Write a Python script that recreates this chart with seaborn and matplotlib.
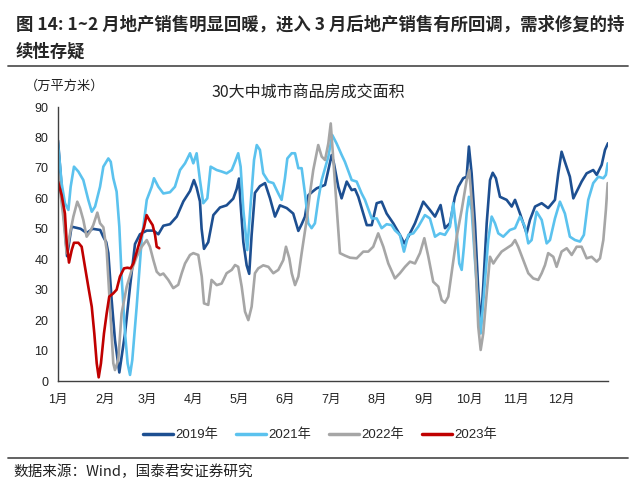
import matplotlib
matplotlib.use("Agg")
import matplotlib.pyplot as plt
from matplotlib.lines import Line2D
import pandas as pd
import seaborn as sns

# day-of-year positions and values (万平方米)
days_2019 = [0, 6, 9, 15, 19, 23, 28, 30, 32, 33.4,
             35.6, 37.8, 40.7, 44.5, 47.8, 51.1, 54.4, 58.9, 63.3, 66.6,
             69.9, 74.3, 78.8, 83.2, 87.6, 90.2, 92, 94.2, 95.3, 96.9,
             99.7, 103.1, 107.5, 111.9, 116.3, 118.6, 120.1, 121.2, 123, 125.2,
             126.9, 128.5, 130.7, 134, 137.4, 140.7, 144, 147.3, 151.8, 156.1,
             159.5, 161.7, 163.9, 166.1, 169.4, 171.7, 177.2, 179.4, 181.6, 183.1,
             186, 188.2, 191.6, 194.9, 197.1, 199.3, 202.6, 204.9, 208.2, 211.5,
             214.8, 218.1, 222.5, 226.9, 229.8, 232.5, 236.9, 242.4, 246.8, 250.2,
             253.9, 256.8, 260.1, 263.4, 265.6, 268.9, 271.2, 272.7, 274.5, 276.7,
             278.9, 280.5, 282.2, 284.5, 286.7, 288.5, 290.6, 293.3, 297.7, 301.1,
             303.3, 306.6, 311, 313.2, 316.6, 321, 325.3, 329.8, 332, 334.2,
             336.4, 339.7, 342, 344.2, 347.5, 350.8, 355.2, 357.5, 360.8, 363,
             365]
vals_2019 = [79, 41, 50.7, 50, 48.6, 50, 49.6, 47.4, 45.6, 42,
             26.6, 13.5, 2.8, 15.7, 31, 45, 48.2, 49.4, 49.4, 48.2,
             51, 51.5, 54, 59, 62.4, 66, 63.5, 59, 50, 43.4,
             45.6, 54.5, 57, 57.7, 59.9, 63.1, 66.5, 58, 45.6, 38,
             35.2, 48, 61.8, 64, 65, 60, 54, 57.7, 56.8, 55,
             49.3, 51.5, 54, 61, 62.4, 63.3, 64.4, 69.3, 74.2, 71.5,
             63.8, 60, 65.5, 62.7, 63, 60.5, 55, 51.2, 51.2, 58.4,
             58.9, 55, 51.8, 48, 45.2, 47.4, 51.8, 58.9, 56.2, 54,
             57.8, 50.2, 51.8, 60.5, 63.8, 66.6, 67.1, 77, 68.2, 51.8,
             29.9, 17.8, 31, 51.8, 66, 68.4, 66.6, 60.5, 59.5, 57.3,
             59.5, 55, 48.5, 52.9, 57.3, 58.4, 56.8, 59.5, 68.2, 75.3,
             72, 67.1, 60, 62.2, 65.5, 68.2, 69.3, 67.7, 71, 75.9,
             78.1]

days_2021 = [0, 2.4, 4.6, 6.9, 8.4, 10.6, 13.5, 16.8, 20.1, 22.4,
             24.6, 27.9, 30.1, 33.4, 35, 36.7, 38.9, 40.7, 42.2, 44.5,
             46.2, 47.8, 49.3, 52.2, 55.5, 58.9, 62.2, 63.7, 66.6, 69.9,
             74.3, 77.6, 81, 84.3, 87.6, 89.8, 92, 94.2, 96.4, 99.1,
             101.3, 105.3, 108.6, 111.9, 115.3, 117.5, 119.6, 121.2, 123, 125.6,
             127.9, 130.1, 131.9, 134, 136.2, 139.6, 142.9, 146.2, 148.4, 150.6,
             152.2, 155.1, 157.3, 159.5, 161.7, 163.9, 166.1, 168.3, 170.5, 172.7,
             175, 179.4, 182, 184.9, 188.3, 190.4, 194.9, 198.2, 201.5, 203.7,
             208.2, 211.5, 214.8, 218.1, 221.4, 223.6, 226.9, 229.6, 232.5, 235.8,
             239.1, 243.5, 246.8, 250.2, 253.5, 256.8, 260.1, 262.3, 264.6, 266.3,
             267.9, 269.4, 271.2, 272.7, 274.5, 276.7, 278.9, 280.5, 282.7, 285.5,
             287.8, 290, 292.2, 295.5, 299.9, 303.3, 306.6, 309.9, 312.1, 314.3,
             317.6, 321, 324.3, 326.5, 329.8, 333.1, 336.4, 339.7, 343.1, 346.4,
             349, 351.9, 355.2, 358.6, 361.9, 363.6, 364.8]
vals_2021 = [78, 65, 58.4, 56.2, 63.8, 70.4, 68.8, 66, 59.5, 55.6,
             57.3, 63.8, 70.4, 73.1, 72, 66.6, 62.2, 50.7, 34.3, 15.6,
             5.8, 2, 6.9, 24.4, 46.3, 59.5, 63.8, 66.6, 63.8, 61.6,
             62, 63.8, 69.3, 71.5, 74.8, 71.5, 74.8, 66, 58.4, 60,
             70.4, 69.3, 68.8, 68.2, 69.3, 72, 74.8, 70.4, 56.2, 43,
             58.4, 72.6, 77.5, 75.9, 68.2, 65.5, 65, 61.6, 59.5, 66.6,
             73.1, 74.8, 74.8, 69.9, 69.9, 61.6, 51.8, 50.2, 51.8, 59.5,
             66, 73.7, 80.8, 78, 74.2, 72, 66, 65.5, 61.6, 59.5,
             53.4, 53.4, 50.2, 51.5, 51.2, 49.5, 48, 42.5, 48, 48.5,
             50.7, 54.5, 53.4, 47.4, 48.5, 48, 50.7, 58.4, 48.5, 38.6,
             36.5, 44.1, 55, 60.5, 56.2, 39.7, 24.4, 15.6, 28.8, 46.3,
             54, 51.8, 48.5, 47.4, 49.6, 50.2, 54, 50.7, 45.2, 46.3,
             55.6, 52.9, 45.2, 46.3, 53.4, 58.9, 55, 47.4, 46.3, 45.8,
             48, 59.5, 65, 67.1, 66.6, 67.7, 71.5]

days_2022 = [0, 3.5, 5.7, 8, 10.2, 12.8, 14.6, 16.8, 19, 21.2,
             23.4, 26.1, 27.9, 30.1, 32.3, 34.5, 36.7, 37.8, 40, 42.2,
             45.6, 48.9, 52.2, 55.5, 58.9, 61, 63.3, 65.5, 67.7, 69.9,
             73.2, 76.5, 79.8, 82.1, 84.3, 87.6, 89.8, 93.1, 95.4, 96.9,
             99.7, 101.9, 105.3, 108.6, 111.9, 115.3, 117.5, 119.6, 121.9, 124.1,
             126.3, 128.5, 130.7, 132.9, 136.2, 139.6, 142.9, 146.2, 149.5, 151.3,
             153.5, 155.1, 157.3, 159.5, 161.7, 165, 167.2, 169.4, 172.7, 175,
             177.2, 179.4, 181, 183.8, 187.1, 190.4, 193.8, 198.2, 202.6, 205.9,
             209.2, 212.5, 215.9, 219.2, 223.6, 226.9, 230.3, 233.6, 236.9, 240.2,
             243.1, 245.7, 249, 252.4, 254.6, 256.8, 259, 261.2, 264.6, 267.9,
             271.2, 272.9, 275.2, 277.4, 278.9, 280.5, 282.2, 284.5, 286.7, 288.9,
             291.1, 294.4, 297.7, 301.1, 303.3, 305.4, 308.8, 312.1, 315.4, 318.7,
             321, 323.2, 325.3, 328.7, 330.9, 334.2, 337.6, 340.9, 344.2, 347.5,
             350.8, 354.1, 357.5, 359.7, 361.9, 363.6, 364.8]
vals_2022 = [68.2, 54, 42, 48.5, 54, 58.9, 56.8, 52.9, 47.4, 49,
             51.2, 55.3, 51.8, 50.5, 43, 24.4, 5.8, 3.6, 6.9, 22.2,
             31, 36.5, 40.8, 44.1, 46.3, 44.1, 39.7, 35.9, 34.8, 35.3,
             33.2, 30.5, 31.6, 35.4, 38.6, 41.4, 42, 41.4, 34.3, 25.5,
             25, 33.2, 31.5, 32, 35.4, 36.5, 38.1, 37.5, 31, 22.8,
             20, 24.4, 35.4, 37, 38, 37.5, 35.4, 36.5, 39.7, 44.1,
             40.3, 35.4, 31.5, 34.3, 42, 52.9, 61.6, 69.3, 77.5, 73.7,
             72.6, 78, 84.6, 65, 42, 41.2, 40.5, 40.3, 42.5, 42.5,
             44.1, 48.5, 44.1, 38.6, 33.7, 35.4, 37.5, 39.2, 38.6, 42,
             46.9, 41, 32.6, 31, 26.6, 25.7, 27.7, 35.4, 47.4, 56.2,
             66, 69.3, 55, 35.4, 17.8, 10.2, 15.6, 28.8, 40.8, 38.6,
             40.3, 42.5, 43.6, 44.7, 46.3, 44.1, 39.7, 35.4, 33.7, 33.2,
             35.4, 38.1, 42, 40.8, 37.5, 42.5, 43.6, 41.4, 44.1, 44.1,
             40.3, 40.8, 39.2, 40.3, 46.3, 56.2, 65]

days_2023 = [0, 2.4, 4.6, 5.8, 7.3, 9.1, 10.6, 13.5, 15.7, 17.9,
             20.1, 22.4, 24.1, 25.7, 27, 28.5, 30.5, 32.3, 34, 36.7,
             38.9, 41.1, 43.8, 46, 48.2, 50, 52.6, 55.5, 57.1, 58.8,
             60.6, 62.8, 64.4, 65.5, 67.2]
vals_2023 = [65.5, 61.1, 55, 45.2, 38.9, 43, 45.4, 45.4, 44.1, 37.5,
             31, 24.4, 15.6, 5.8, 1.2, 5.8, 15.6, 22.2, 27.7, 28.8,
             30, 34.3, 37, 37.2, 37, 38.6, 43, 48, 50.5, 54.5,
             52.9, 51.2, 48, 44.1, 43.6]

years = ["2019年", "2021年", "2022年", "2023年"]
colors = ["#1D4F91", "#5BC2EE", "#A6A6A6", "#C00000"]
month_starts = [0, 31, 59, 90, 120, 151, 181, 212, 243, 273, 304, 334, 365]
month_labels = ["1月", "2月", "3月", "4月", "5月", "6月", "7月", "8月",
                "9月", "10月", "11月", "12月", ""]

series = [(days_2019, vals_2019), (days_2021, vals_2021),
          (days_2022, vals_2022), (days_2023, vals_2023)]
frames = []
for name, (d, v) in zip(years, series):
    frames.append(pd.DataFrame({"day": d, "value": v, "year": name}))
df = pd.concat(frames, ignore_index=True)

sns.set_style("white")
plt.rcParams["font.family"] = ["Liberation Sans", "Noto Sans CJK SC", "DejaVu Sans"]
cjk = ["Noto Sans CJK SC", "DejaVu Sans"]

fig = plt.figure(figsize=(6.4, 5.03), dpi=100)
ax = fig.add_axes([58 / 640, 1 - 381 / 503, 550 / 640, 274 / 503])

sns.lineplot(data=df, x="day", y="value", hue="year", palette=colors,
             hue_order=years, estimator=None, sort=False, linewidth=1.9,
             legend=False, ax=ax)

ax.set_xlim(0, 365)
ax.set_ylim(0, 90)
ax.set_yticks(range(0, 91, 10))
ax.set_xticks(month_starts)
ax.set_xticklabels(month_labels)
ax.set_xlabel("")
ax.set_ylabel("")
for s in ["top", "right"]:
    ax.spines[s].set_visible(False)
for s in ["left", "bottom"]:
    ax.spines[s].set_color("#404040")
    ax.spines[s].set_linewidth(1.0)
ax.tick_params(axis="both", direction="out", length=3, width=1, color="#404040",
               labelsize=9, labelcolor="#222222")
ax.tick_params(axis="x", pad=6)
ax.tick_params(axis="y", pad=4)

# title block
fig.text(16 / 640, 1 - 25 / 503,
         "图 14: 1~2 月地产销售明显回暖，进入 3 月后地产销售有所回调，需求修复的持",
         family=cjk, fontsize=12.5, fontweight="bold", va="center", ha="left")
fig.text(16 / 640, 1 - 52 / 503, "续性存疑", family=cjk, fontsize=12.5,
         fontweight="bold", va="center", ha="left")
fig.add_artist(Line2D([8 / 640, 628 / 640], [1 - 66 / 503] * 2,
                      transform=fig.transFigure, color="#555555", lw=1.3))

fig.text(25 / 640, 1 - 86 / 503, "（万平方米）", family=cjk, fontsize=9.5,
         va="center", ha="left", color="#222222")
fig.text(308 / 640, 1 - 93 / 503, "30大中城市商品房成交面积", family=cjk,
         fontsize=11.5, va="center", ha="center", color="#222222")

handles = [Line2D([0], [0], color=c, lw=2.5) for c in colors]
fig.legend(handles, years, loc="center", bbox_to_anchor=(320 / 640, 1 - 435 / 503),
           ncol=4, frameon=False, fontsize=9.5, handlelength=2.3,
           handletextpad=0.2, columnspacing=1.3)

fig.add_artist(Line2D([8 / 640, 628 / 640], [1 - 458 / 503] * 2,
                      transform=fig.transFigure, color="#555555", lw=1.3))
fig.text(13 / 640, 1 - 472 / 503, "数据来源：Wind，国泰君安证券研究", family=cjk,
         fontsize=10.5, va="center", ha="left", color="#222222")

fig.savefig("out.png", dpi=100)
